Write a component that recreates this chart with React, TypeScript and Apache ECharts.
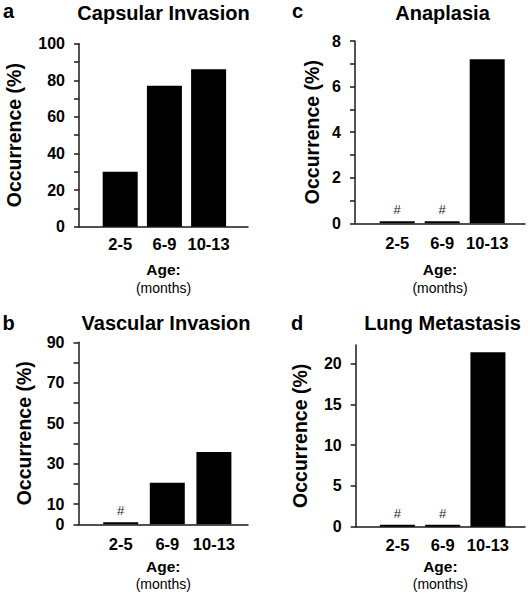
import React, { useEffect, useRef } from 'react';
import * as echarts from 'echarts';

// ---- data ----
const categories = ['2-5', '6-9', '10-13'];

const capsularValues = [30, 77, 86];
const vascularValues = [1, 20.6, 35.8];
const anaplasiaValues = [0.09, 0.09, 7.2];
const lungValues = [0.25, 0.25, 21.4];

const capsularNotes = ['', '', ''];
const vascularNotes = ['#', '', ''];
const anaplasiaNotes = ['#', '#', ''];
const lungNotes = ['#', '#', ''];

const capsularTicks = [0, 10, 20, 30, 40, 50, 60, 70, 80, 90, 100];
const capsularLabels = [0, 20, 40, 60, 80, 100];
const vascularTicks = [0, 10, 20, 30, 40, 50, 60, 70, 80, 90];
const vascularLabels = [0, 10, 30, 50, 70, 90];
const anaplasiaTicks = [0, 1, 2, 3, 4, 5, 6, 7, 8];
const anaplasiaLabels = [0, 2, 4, 6, 8];
const lungTicks = [0, 5, 10, 15, 20];
const lungLabels = [0, 5, 10, 15, 20];

const capsularMax = 100;
const vascularMax = 90;
const anaplasiaMax = 8;
const lungMax = 22.3;

const FONT = "'Liberation Sans', Arial, Helvetica, sans-serif";

interface Panel {
  letter: string;
  title: string;
  values: number[];
  notes: string[];
  ticks: number[];
  labels: number[];
  max: number;
  frame: { left: number; top: number; width: number; height: number };
  bars: { left: number; width: number };
  yNameGap: number;
  xNameGap: number;
  catMargin: number;
  letterPos: [number, number];
  titlePos: [number, number];
}

const panels: Panel[] = [
  {
    letter: 'a', title: 'Capsular Invasion', values: capsularValues, notes: capsularNotes,
    ticks: capsularTicks, labels: capsularLabels, max: capsularMax,
    frame: { left: 79, top: 43.7, width: 169, height: 183 },
    bars: { left: 98.1, width: 132.6 },
    yNameGap: 55, xNameGap: 34, catMargin: 9,
    letterPos: [8.5, 11], titlePos: [163.5, 12.5],
  },
  {
    letter: 'b', title: 'Vascular Invasion', values: vascularValues, notes: vascularNotes,
    ticks: vascularTicks, labels: vascularLabels, max: vascularMax,
    frame: { left: 78.5, top: 342.3, width: 169.5, height: 182 },
    bars: { left: 97.4, width: 139.8 },
    yNameGap: 45, xNameGap: 33, catMargin: 11,
    letterPos: [8.5, 323], titlePos: [166, 322.5],
  },
  {
    letter: 'c', title: 'Anaplasia', values: anaplasiaValues, notes: anaplasiaNotes,
    ticks: anaplasiaTicks, labels: anaplasiaLabels, max: anaplasiaMax,
    frame: { left: 355, top: 41, width: 170, height: 182.3 },
    bars: { left: 374.7, width: 135 },
    yNameGap: 33, xNameGap: 37.5, catMargin: 11,
    letterPos: [297.5, 11], titlePos: [442.5, 12.5],
  },
  {
    letter: 'd', title: 'Lung Metastasis', values: lungValues, notes: lungNotes,
    ticks: lungTicks, labels: lungLabels, max: lungMax,
    frame: { left: 355.7, top: 345, width: 169.3, height: 181.7 },
    bars: { left: 374.8, width: 135.75 },
    yNameGap: 46, xNameGap: 30.5, catMargin: 10,
    letterPos: [297, 322.5], titlePos: [442.5, 322.5],
  },
];

function buildOption() {
  const grid: any[] = [];
  const xAxis: any[] = [];
  const yAxis: any[] = [];
  const series: any[] = [];
  const graphic: any[] = [];

  panels.forEach((p, i) => {
    const fi = 2 * i;
    const bi = 2 * i + 1;
    grid.push({
      left: p.frame.left, top: p.frame.top, width: p.frame.width, height: p.frame.height,
      containLabel: false, outerBoundsMode: 'none',
    });
    grid.push({
      left: p.bars.left, top: p.frame.top, width: p.bars.width, height: p.frame.height,
      containLabel: false, outerBoundsMode: 'none',
    });

    xAxis.push({
      type: 'value', gridIndex: fi, min: 0, max: 1,
      axisLine: { show: true, onZero: false, lineStyle: { color: '#1a1a1a', width: 1.5 } },
      axisTick: { show: false }, axisLabel: { show: false }, splitLine: { show: false },
      name: '{a|Age:}\n{b|(months)}',
      nameLocation: 'middle', nameGap: p.xNameGap, nameMoveOverlap: false,
      nameTextStyle: {
        rich: {
          a: { fontFamily: FONT, fontSize: 15.5, fontWeight: 'bold', color: '#000', lineHeight: 18, align: 'center' },
          b: { fontFamily: FONT, fontSize: 14, fontWeight: 'normal', color: '#000', lineHeight: 18, align: 'center' },
        },
      },
    });
    yAxis.push({
      type: 'value', gridIndex: fi, min: 0, max: p.max,
      axisLine: { show: true, onZero: false, lineStyle: { color: '#1a1a1a', width: 1.5 } },
      axisTick: { show: true, inside: false, length: 5, customValues: p.ticks, lineStyle: { color: '#1a1a1a', width: 1.5 } },
      axisLabel: {
        show: true, customValues: p.labels, margin: 14,
        fontFamily: FONT, fontSize: 16, fontWeight: 'bold', color: '#000',
      },
      splitLine: { show: false },
      name: 'Occurrence (%)', nameLocation: 'middle', nameRotate: 90, nameGap: p.yNameGap,
      nameMoveOverlap: false,
      nameTextStyle: { fontFamily: FONT, fontSize: 19.5, fontWeight: 'bold', color: '#000' },
    });

    xAxis.push({
      type: 'category', gridIndex: bi, data: categories,
      axisLine: { show: false }, axisTick: { show: false }, splitLine: { show: false },
      axisLabel: { show: true, interval: 0, margin: p.catMargin, fontFamily: FONT, fontSize: 16.5, fontWeight: 'bold', color: '#000' },
    });
    yAxis.push({
      type: 'value', gridIndex: bi, min: 0, max: p.max, show: false,
      splitLine: { show: false },
    });

    series.push({
      type: 'bar', xAxisIndex: bi, yAxisIndex: bi, barWidth: 35, silent: true,
      itemStyle: { color: '#000' },
      data: p.values.map((v, k) => ({
        value: v,
        label: {
          show: p.notes[k] !== '', formatter: p.notes[k], position: 'top', distance: 5,
          fontFamily: FONT, fontSize: 13, color: '#222',
        },
      })),
    });

    graphic.push({
      type: 'text', x: p.letterPos[0], y: p.letterPos[1],
      style: {
        text: p.letter, fill: '#000', font: `bold 20px ${FONT}`,
        align: 'center', verticalAlign: 'middle', textAlign: 'center', textVerticalAlign: 'middle',
      },
    });
    graphic.push({
      type: 'text', x: p.titlePos[0], y: p.titlePos[1],
      style: {
        text: p.title, fill: '#000', font: `bold 20px ${FONT}`,
        align: 'center', verticalAlign: 'middle', textAlign: 'center', textVerticalAlign: 'middle',
      },
    });
  });

  return {
    animation: false,
    backgroundColor: '#fff',
    textStyle: { fontFamily: FONT },
    grid, xAxis, yAxis, series, graphic,
  };
}

export default function App() {
  const ref = useRef<HTMLDivElement>(null);
  useEffect(() => {
    document.body.style.margin = '0';
    if (!ref.current) return;
    const chart = echarts.init(ref.current, undefined, { renderer: 'svg' });
    chart.setOption(buildOption() as any);
    return () => chart.dispose();
  }, []);
  return <div ref={ref} style={{ width: 530, height: 599 }} />;
}
